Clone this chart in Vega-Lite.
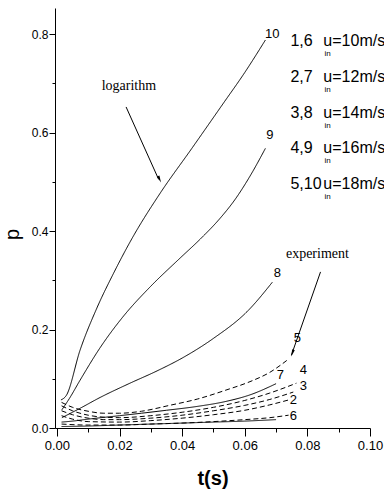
{
  "$schema": "https://vega.github.io/schema/vega-lite/v6.json",
  "width": 315,
  "height": 420,
  "autosize": {"type": "none"},
  "padding": {"left": 55, "top": 8, "right": 14, "bottom": 70},
  "background": "white",
  "config": {
    "view": {"stroke": null},
    "axis": {"grid": false, "domainColor": "black", "tickColor": "black", "labelColor": "black", "titleColor": "black", "labelFont": "Liberation Sans, sans-serif", "titleFont": "Liberation Sans, sans-serif"}
  },
  "datasets": {
    "curves": [
      {"c": "10", "kind": "solid", "t": 0.0013, "p": 0.057},
      {"c": "10", "kind": "solid", "t": 0.003, "p": 0.066},
      {"c": "10", "kind": "solid", "t": 0.0074, "p": 0.158},
      {"c": "10", "kind": "solid", "t": 0.0128, "p": 0.244},
      {"c": "10", "kind": "solid", "t": 0.018, "p": 0.313},
      {"c": "10", "kind": "solid", "t": 0.024, "p": 0.385},
      {"c": "10", "kind": "solid", "t": 0.033, "p": 0.477},
      {"c": "10", "kind": "solid", "t": 0.043, "p": 0.567},
      {"c": "10", "kind": "solid", "t": 0.053, "p": 0.658},
      {"c": "10", "kind": "solid", "t": 0.06, "p": 0.722},
      {"c": "10", "kind": "solid", "t": 0.0666, "p": 0.788},
      {"c": "9", "kind": "solid", "t": 0.0016, "p": 0.037},
      {"c": "9", "kind": "solid", "t": 0.004, "p": 0.06},
      {"c": "9", "kind": "solid", "t": 0.0074, "p": 0.097},
      {"c": "9", "kind": "solid", "t": 0.0138, "p": 0.163},
      {"c": "9", "kind": "solid", "t": 0.021, "p": 0.225},
      {"c": "9", "kind": "solid", "t": 0.03, "p": 0.288},
      {"c": "9", "kind": "solid", "t": 0.039, "p": 0.343},
      {"c": "9", "kind": "solid", "t": 0.046, "p": 0.385},
      {"c": "9", "kind": "solid", "t": 0.052, "p": 0.425},
      {"c": "9", "kind": "solid", "t": 0.057, "p": 0.465},
      {"c": "9", "kind": "solid", "t": 0.062, "p": 0.515},
      {"c": "9", "kind": "solid", "t": 0.0666, "p": 0.568},
      {"c": "8", "kind": "solid", "t": 0.0016, "p": 0.021},
      {"c": "8", "kind": "solid", "t": 0.0074, "p": 0.04},
      {"c": "8", "kind": "solid", "t": 0.0138, "p": 0.062},
      {"c": "8", "kind": "solid", "t": 0.023, "p": 0.09},
      {"c": "8", "kind": "solid", "t": 0.032, "p": 0.116},
      {"c": "8", "kind": "solid", "t": 0.04, "p": 0.142},
      {"c": "8", "kind": "solid", "t": 0.05, "p": 0.182},
      {"c": "8", "kind": "solid", "t": 0.061, "p": 0.238},
      {"c": "8", "kind": "solid", "t": 0.0688, "p": 0.296},
      {"c": "7", "kind": "solid", "t": 0.0015, "p": 0.012},
      {"c": "7", "kind": "solid", "t": 0.005, "p": 0.014},
      {"c": "7", "kind": "solid", "t": 0.01, "p": 0.018},
      {"c": "7", "kind": "solid", "t": 0.02, "p": 0.025},
      {"c": "7", "kind": "solid", "t": 0.027, "p": 0.03},
      {"c": "7", "kind": "solid", "t": 0.035, "p": 0.036},
      {"c": "7", "kind": "solid", "t": 0.045, "p": 0.044},
      {"c": "7", "kind": "solid", "t": 0.054, "p": 0.054},
      {"c": "7", "kind": "solid", "t": 0.062, "p": 0.068},
      {"c": "7", "kind": "solid", "t": 0.07, "p": 0.09},
      {"c": "6", "kind": "solid", "t": 0.0015, "p": 0.003},
      {"c": "6", "kind": "solid", "t": 0.01, "p": 0.004},
      {"c": "6", "kind": "solid", "t": 0.02, "p": 0.006},
      {"c": "6", "kind": "solid", "t": 0.03, "p": 0.008},
      {"c": "6", "kind": "solid", "t": 0.04, "p": 0.01},
      {"c": "6", "kind": "solid", "t": 0.05, "p": 0.012},
      {"c": "6", "kind": "solid", "t": 0.06, "p": 0.014},
      {"c": "6", "kind": "solid", "t": 0.07, "p": 0.017},
      {"c": "5", "kind": "dashed", "t": 0.0015, "p": 0.052},
      {"c": "5", "kind": "dashed", "t": 0.005, "p": 0.042},
      {"c": "5", "kind": "dashed", "t": 0.01, "p": 0.034},
      {"c": "5", "kind": "dashed", "t": 0.015, "p": 0.03},
      {"c": "5", "kind": "dashed", "t": 0.02, "p": 0.03},
      {"c": "5", "kind": "dashed", "t": 0.027, "p": 0.034},
      {"c": "5", "kind": "dashed", "t": 0.036, "p": 0.046},
      {"c": "5", "kind": "dashed", "t": 0.045, "p": 0.059},
      {"c": "5", "kind": "dashed", "t": 0.054, "p": 0.077},
      {"c": "5", "kind": "dashed", "t": 0.062, "p": 0.095},
      {"c": "5", "kind": "dashed", "t": 0.068, "p": 0.113},
      {"c": "5", "kind": "dashed", "t": 0.074, "p": 0.14},
      {"c": "4", "kind": "dashed", "t": 0.0015, "p": 0.045},
      {"c": "4", "kind": "dashed", "t": 0.005, "p": 0.035},
      {"c": "4", "kind": "dashed", "t": 0.01, "p": 0.026},
      {"c": "4", "kind": "dashed", "t": 0.015, "p": 0.022},
      {"c": "4", "kind": "dashed", "t": 0.02, "p": 0.021},
      {"c": "4", "kind": "dashed", "t": 0.03, "p": 0.025},
      {"c": "4", "kind": "dashed", "t": 0.04, "p": 0.032},
      {"c": "4", "kind": "dashed", "t": 0.05, "p": 0.042},
      {"c": "4", "kind": "dashed", "t": 0.06, "p": 0.056},
      {"c": "4", "kind": "dashed", "t": 0.068, "p": 0.071},
      {"c": "4", "kind": "dashed", "t": 0.0765, "p": 0.091},
      {"c": "3", "kind": "dashed", "t": 0.0015, "p": 0.035},
      {"c": "3", "kind": "dashed", "t": 0.005, "p": 0.027},
      {"c": "3", "kind": "dashed", "t": 0.01, "p": 0.02},
      {"c": "3", "kind": "dashed", "t": 0.015, "p": 0.017},
      {"c": "3", "kind": "dashed", "t": 0.02, "p": 0.017},
      {"c": "3", "kind": "dashed", "t": 0.03, "p": 0.02},
      {"c": "3", "kind": "dashed", "t": 0.04, "p": 0.026},
      {"c": "3", "kind": "dashed", "t": 0.05, "p": 0.035},
      {"c": "3", "kind": "dashed", "t": 0.06, "p": 0.046},
      {"c": "3", "kind": "dashed", "t": 0.068, "p": 0.058},
      {"c": "3", "kind": "dashed", "t": 0.0755, "p": 0.073},
      {"c": "2", "kind": "dashed", "t": 0.0015, "p": 0.025},
      {"c": "2", "kind": "dashed", "t": 0.005, "p": 0.018},
      {"c": "2", "kind": "dashed", "t": 0.01, "p": 0.013},
      {"c": "2", "kind": "dashed", "t": 0.02, "p": 0.012},
      {"c": "2", "kind": "dashed", "t": 0.03, "p": 0.015},
      {"c": "2", "kind": "dashed", "t": 0.04, "p": 0.02},
      {"c": "2", "kind": "dashed", "t": 0.05, "p": 0.027},
      {"c": "2", "kind": "dashed", "t": 0.06, "p": 0.036},
      {"c": "2", "kind": "dashed", "t": 0.068, "p": 0.047},
      {"c": "2", "kind": "dashed", "t": 0.0746, "p": 0.058},
      {"c": "1", "kind": "dashed", "t": 0.0015, "p": 0.008},
      {"c": "1", "kind": "dashed", "t": 0.01, "p": 0.006},
      {"c": "1", "kind": "dashed", "t": 0.02, "p": 0.006},
      {"c": "1", "kind": "dashed", "t": 0.03, "p": 0.008},
      {"c": "1", "kind": "dashed", "t": 0.04, "p": 0.01},
      {"c": "1", "kind": "dashed", "t": 0.05, "p": 0.013},
      {"c": "1", "kind": "dashed", "t": 0.06, "p": 0.017},
      {"c": "1", "kind": "dashed", "t": 0.068, "p": 0.021},
      {"c": "1", "kind": "dashed", "t": 0.074, "p": 0.026}
    ],
    "curveLabels": [
      {"t": 0.0688, "p": 0.8, "label": "10"},
      {"t": 0.068, "p": 0.595, "label": "9"},
      {"t": 0.0704, "p": 0.315, "label": "8"},
      {"t": 0.0714, "p": 0.108, "label": "7"},
      {"t": 0.0768, "p": 0.183, "label": "5"},
      {"t": 0.0787, "p": 0.117, "label": "4"},
      {"t": 0.0787, "p": 0.086, "label": "3"},
      {"t": 0.0755, "p": 0.056, "label": "2"},
      {"t": 0.0755, "p": 0.025, "label": "6"}
    ],
    "legendNum": [
      {"t": 0.0746, "p": 0.786, "label": "1,6"},
      {"t": 0.0746, "p": 0.7125, "label": "2,7"},
      {"t": 0.0746, "p": 0.64, "label": "3,8"},
      {"t": 0.0746, "p": 0.568, "label": "4,9"},
      {"t": 0.0746, "p": 0.495, "label": "5,10"}
    ],
    "legendVel": [
      {"t": 0.0851, "p": 0.786, "label": "u=10m/s"},
      {"t": 0.0851, "p": 0.7125, "label": "u=12m/s"},
      {"t": 0.0851, "p": 0.64, "label": "u=14m/s"},
      {"t": 0.0851, "p": 0.568, "label": "u=16m/s"},
      {"t": 0.0851, "p": 0.495, "label": "u=18m/s"}
    ],
    "legendSub": [
      {"t": 0.0855, "p": 0.76, "label": "in"},
      {"t": 0.0855, "p": 0.6865, "label": "in"},
      {"t": 0.0855, "p": 0.614, "label": "in"},
      {"t": 0.0855, "p": 0.542, "label": "in"},
      {"t": 0.0855, "p": 0.469, "label": "in"}
    ],
    "notes": [
      {"t": 0.023, "p": 0.694, "label": "logarithm"},
      {"t": 0.0832, "p": 0.353, "label": "experiment"}
    ],
    "arrows": [
      {"t": 0.0221, "p": 0.652, "t2": 0.0325, "p2": 0.505, "tipT": 0.0328, "tipP": 0.505, "ang": 155},
      {"t": 0.0842, "p": 0.317, "t2": 0.0749, "p2": 0.148, "tipT": 0.0752, "tipP": 0.152, "ang": 199}
    ]
  },
  "encoding": {
    "x": {
      "field": "t", "type": "quantitative",
      "scale": {"domain": [-0.0006, 0.1], "nice": false, "zero": false},
      "axis": {
        "values": [0, 0.01, 0.02, 0.03, 0.04, 0.05, 0.06, 0.07, 0.08, 0.09, 0.1],
        "labelExpr": "round(datum.value*100)%2==0 ? format(datum.value,'.2f') : ''",
        "tickSize": {"condition": {"test": "round(datum.value*100)%2==0", "value": 8}, "value": 4},
        "labelFontSize": 13, "labelPadding": 3, "labelFlush": false, "labelOverlap": false,
        "title": "t(s)", "titleFontSize": 20, "titleFontWeight": "bold", "titlePadding": 16
      }
    },
    "y": {
      "field": "p", "type": "quantitative",
      "scale": {"domain": [0, 0.853], "nice": false, "zero": false},
      "axis": {
        "values": [0, 0.1, 0.2, 0.3, 0.4, 0.5, 0.6, 0.7, 0.8],
        "labelExpr": "round(datum.value*10)%2==0 ? format(datum.value,'.1f') : ''",
        "tickSize": {"condition": {"test": "round(datum.value*10)%2==0", "value": 6}, "value": 3},
        "labelFontSize": 12, "labelPadding": 1, "labelFlush": false, "labelOverlap": false,
        "title": "p", "titleFontSize": 20, "titleFontWeight": "normal", "titleX": -33, "titleY": 226
      }
    }
  },
  "layer": [
    {
      "data": {"name": "curves"},
      "mark": {"type": "line", "interpolate": "monotone", "color": "black", "strokeWidth": 1},
      "encoding": {
        "detail": {"field": "c", "type": "nominal"},
        "strokeDash": {"field": "kind", "type": "nominal", "scale": {"domain": ["solid", "dashed"], "range": [[1, 0], [5, 3]]}, "legend": null}
      }
    },
    {
      "data": {"name": "curveLabels"},
      "mark": {"type": "text", "font": "Liberation Sans, sans-serif", "fontSize": 13, "color": "black", "align": "center", "baseline": "middle"},
      "encoding": {"text": {"field": "label"}}
    },
    {
      "data": {"name": "legendNum"},
      "mark": {"type": "text", "font": "Liberation Sans, sans-serif", "fontSize": 16, "color": "black", "align": "left", "baseline": "middle"},
      "encoding": {"text": {"field": "label"}}
    },
    {
      "data": {"name": "legendVel"},
      "mark": {"type": "text", "font": "Liberation Sans, sans-serif", "fontSize": 16, "color": "black", "align": "left", "baseline": "middle"},
      "encoding": {"text": {"field": "label"}}
    },
    {
      "data": {"name": "legendSub"},
      "mark": {"type": "text", "font": "Liberation Sans, sans-serif", "fontSize": 8, "color": "black", "align": "left", "baseline": "middle"},
      "encoding": {"text": {"field": "label"}}
    },
    {
      "data": {"name": "notes"},
      "mark": {"type": "text", "font": "Liberation Serif, serif", "fontSize": 14, "color": "black", "align": "center", "baseline": "middle"},
      "encoding": {"text": {"field": "label"}}
    },
    {
      "data": {"name": "arrows"},
      "mark": {"type": "rule", "color": "black", "strokeWidth": 1},
      "encoding": {"x2": {"field": "t2"}, "y2": {"field": "p2"}}
    },
    {
      "data": {"name": "arrows"},
      "mark": {"type": "point", "shape": "M0,-1L0.4,1L-0.4,1Z", "filled": true, "color": "black", "opacity": 1, "size": 50},
      "encoding": {
        "x": {"field": "tipT", "type": "quantitative"},
        "y": {"field": "tipP", "type": "quantitative"},
        "angle": {"field": "ang", "type": "quantitative", "scale": null}
      }
    }
  ]
}
